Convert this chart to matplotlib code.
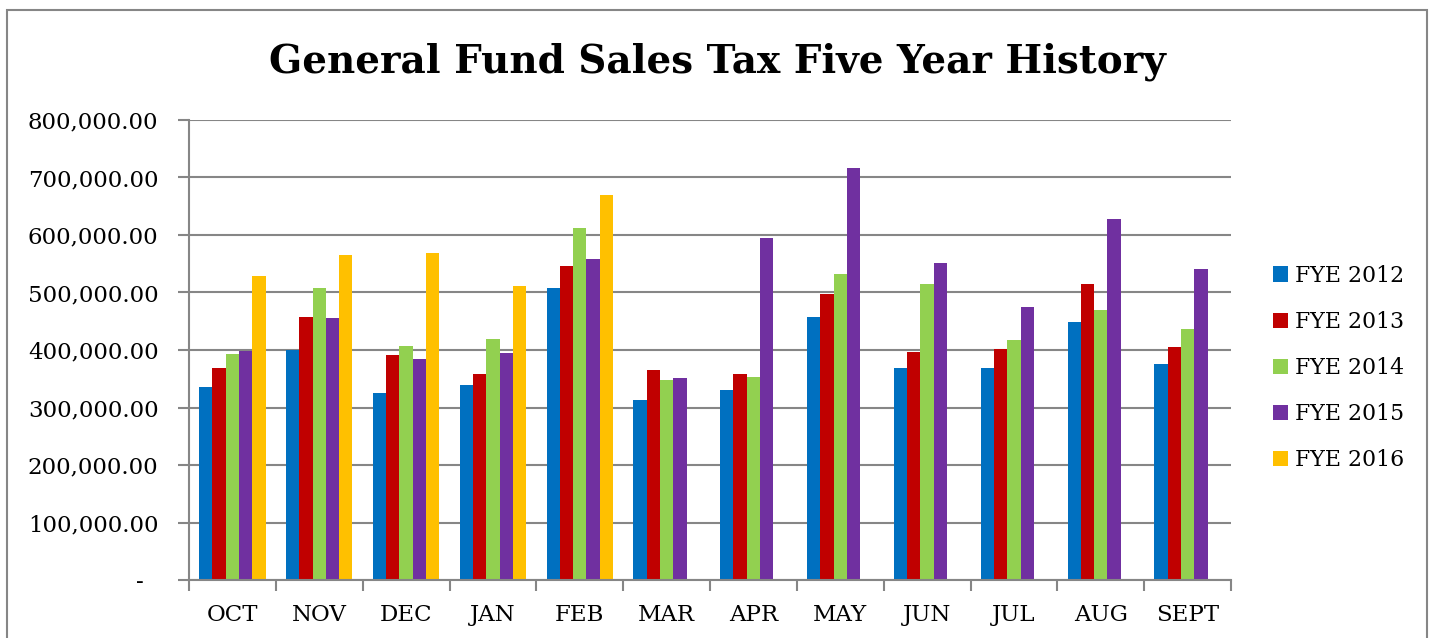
import numpy as np
import matplotlib.pyplot as plt
from matplotlib.patches import Rectangle
from matplotlib.ticker import FuncFormatter

meses = ["OCT", "NOV", "DEC", "JAN", "FEB", "MAR", "APR", "MAY", "JUN", "JUL", "AUG", "SEPT"]
series = ["FYE 2012", "FYE 2013", "FYE 2014", "FYE 2015", "FYE 2016"]
fye2012 = [335000, 400500, 325000, 340000, 507000, 312500, 330000, 457000, 369000, 368000, 449000, 376000]
fye2013 = [368000, 457000, 391000, 358000, 546000, 365000, 359000, 497000, 396500, 402000, 514000, 405000]
fye2014 = [393000, 507000, 407000, 419000, 613000, 347000, 352500, 532000, 515000, 417000, 469000, 436500]
fye2015 = [398000, 456000, 384000, 394000, 559000, 351000, 595000, 717000, 551000, 475000, 627000, 540000]
fye2016 = [529000, 565000, 569000, 511000, 670000, np.nan, np.nan, np.nan, np.nan, np.nan, np.nan, np.nan]
colores = ["#0070C0", "#C00000", "#92D050", "#7030A0", "#FFC000"]

plt.rcParams['font.family'] = ['DejaVu Serif']
gris = "#868686"

fig = plt.figure(figsize=(14.34, 6.38), dpi=100)
ax = fig.add_axes([189/1434, 58/638, 1042/1434, 460/638])

datos = [fye2012, fye2013, fye2014, fye2015, fye2016]
x = np.arange(len(meses))
ancho = 0.153
for i, vals in enumerate(datos):
    ax.bar(x + (i - 2) * ancho, vals, ancho, color=colores[i], label=series[i], zorder=3)

ax.set_xlim(-0.5, len(meses) - 0.5)
ax.set_ylim(0, 800000)
ax.set_yticks(np.arange(0, 800001, 100000))
ax.yaxis.set_major_formatter(FuncFormatter(lambda v, p: "-  " if v == 0 else "{:,.2f}".format(v)))
ax.set_xticks(x)
ax.set_xticklabels(meses)
ax.set_xticks(np.arange(-0.5, len(meses)), minor=True)
ax.tick_params(axis='x', which='major', length=0, pad=17, labelsize=16.5)
ax.tick_params(axis='x', which='minor', length=8, width=1.5, color=gris)
ax.tick_params(axis='y', length=8, width=1.5, color=gris, labelsize=16.5, pad=14)
ax.grid(axis='y', color=gris, linewidth=1.5, zorder=0)
for s in ['top', 'right']:
    ax.spines[s].set_visible(False)
for s in ['left', 'bottom']:
    ax.spines[s].set_color(gris)
    ax.spines[s].set_linewidth(1.5)
    ax.spines[s].set_zorder(4)

fig.text(0.5, 1 - 62/638, "General Fund Sales Tax Five Year History", ha='center', va='center',
         fontsize=28, fontweight='bold')

ax.legend(loc='center left', bbox_to_anchor=(1264/1434, 1 - 368/638), bbox_transform=fig.transFigure,
          frameon=False, fontsize=15.8, handlelength=0.7, handleheight=0.7, handletextpad=0.3,
          labelspacing=1.1, borderaxespad=0)

fig.patches.append(Rectangle((7/1434, -0.05), 1420/1434, 1.05 - 10/638, transform=fig.transFigure,
                             fill=False, edgecolor=gris, linewidth=1.5))

fig.savefig("out.png", dpi=100)
